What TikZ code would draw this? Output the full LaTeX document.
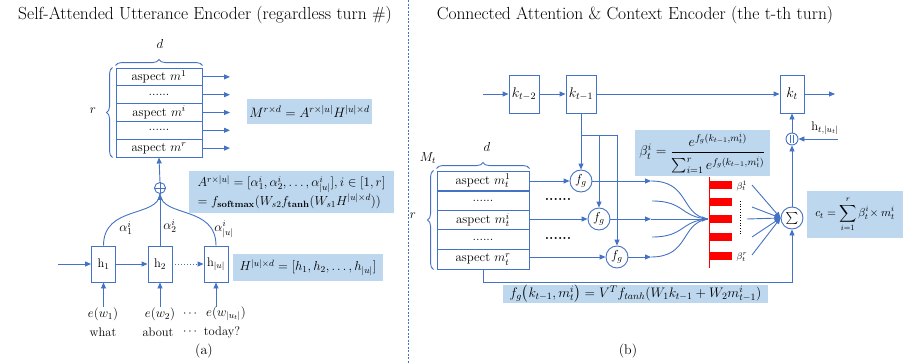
\RequirePackage{fix-cm}
\documentclass[tikz,border=0pt]{standalone}
\usepackage{amsmath}
\usetikzlibrary{arrows.meta,decorations.pathreplacing,calc}
\definecolor{blu}{RGB}{68,114,196}
\definecolor{lblu}{RGB}{189,215,238}
\definecolor{rd}{RGB}{255,0,0}
\tikzset{
  ln/.style={draw=blu,line width=0.9pt},
  ar/.style={ln,-{Triangle[length=6pt,width=5pt]}},
  rowbox/.style={draw=blu,line width=0.9pt,minimum width=86pt,inner sep=0pt,font=\fontsize{12.8}{14}\selectfont},
  rowboxr/.style={rowbox,minimum width=92pt},
  hbox/.style={draw=blu,line width=0.9pt,minimum width=24pt,minimum height=36pt,inner sep=0pt,font=\fontsize{12.5}{14}\selectfont},
  kbox/.style={draw=blu,line width=0.9pt,minimum width=30pt,minimum height=38pt,inner sep=0pt,font=\fontsize{14}{16}\selectfont},
  fgc/.style={circle,draw=blu,line width=0.9pt,minimum size=22pt,inner sep=0pt,font=\fontsize{13}{15}\selectfont},
  formula/.style={fill=lblu,inner sep=2pt,font=\fontsize{13}{15}\selectfont},
  lbl/.style={inner sep=0pt,font=\fontsize{12}{14}\selectfont},
  ttl/.style={inner sep=0pt,font=\fontsize{17.5}{20}\selectfont},
  brc/.style={ln,decorate,decoration={brace,amplitude=6pt}},
}
\begin{document}
\begin{tikzpicture}[x=1pt,y=-1pt]
\useasboundingbox (0,0) rectangle (914,364);

% ---------- titles and divider ----------
\node[ttl] (titleA) at (205,15) {Self-Attended Utterance Encoder (regardless turn \#)};
\node[ttl] (titleB) at (635,15) {Connected Attention \& Context Encoder (the t-th turn)};
\draw[draw=blu,line width=0.8pt,dash pattern=on 2pt off 1.5pt] (408,0) -- (408,364);

% ---------- (a) self-attended utterance encoder ----------
\foreach \n/\y/\t in {1/76.9/{aspect $m^1$},2/94.7/{......},3/112.5/{aspect $m^i$},4/130.3/{......},5/148.1/{aspect $m^r$}}{
  \node[rowbox,minimum height=17.8pt] (a\n) at (159,\y) {\t};
  \coordinate (ae\n) at (230,\y);
  \draw[ar] (a\n.east) -- (ae\n);
}
\draw[brc] ($(a1.north west)+(0,-2)$) -- ($(a1.north east)+(0,-2)$);
\node[lbl,font=\fontsize{13}{15}\selectfont] (dA) at (160,44) {$d$};
\draw[brc] ($(a5.south west)+(-3,0)$) -- ($(a1.north west)+(-3,0)$);
\node[lbl,font=\fontsize{13}{15}\selectfont] (rA) at (93,111) {$r$};

\node[formula,minimum width=119pt,minimum height=25pt,font=\fontsize{13.6}{15}\selectfont] (Mf) at (309.5,111.5) {$M^{r\times d} = A^{r\times|u|}H^{|u|\times d}$};

% combining node
\node[circle,draw=blu,line width=0.9pt,minimum size=11pt,inner sep=0pt] (plus) at (160,188) {};
\draw[ln] (plus.north) -- (plus.south) (plus.west) -- (plus.east);
\draw[ar] (plus.north) -- (a5.south);

% hidden states
\node[hbox] (h1) at (103.5,264) {h$_1$};
\node[hbox] (h2) at (160,264) {h$_2$};
\node[hbox] (h3) at (216,264) {h$_{|u|}$};
\coordinate (hin) at (58,264);
\draw[ar] (hin) -- (h1.west);
\draw[ar] (h1.east) -- (h2.west);
\draw[ln,dotted,-{Triangle[length=6pt,width=5pt]}] (h2.east) -- (h3.west);

\draw[ln] (h1.north) .. controls (103.5,205) and (158,218) .. (plus.south);
\draw[ln] (h3.north) .. controls (216,205) and (162,218) .. (plus.south);
\draw[ar] (h2.north) -- (plus.south);

\node[lbl,font=\fontsize{13}{15}\selectfont] (al1) at (126,228) {$\alpha_1^i$};
\node[lbl,font=\fontsize{13}{15}\selectfont] (al2) at (170,226) {$\alpha_2^i$};
\node[lbl,font=\fontsize{13}{15}\selectfont] (al3) at (224,229) {$\alpha_{|u|}^i$};

\node[formula,minimum width=205pt,minimum height=42pt,align=left] (Af) at (291.5,192)
  {$A^{r\times|u|} = [\alpha_1^i,\alpha_2^i,\ldots,\alpha_{|u|}^i], i\in[1,r]$\\
   $= f_{\mathbf{softmax}}(W_{s2}f_{\mathbf{tanh}}(W_{s1}H^{|u|\times d}))$};
\node[formula,minimum width=150pt,minimum height=27pt] (Hf) at (308,267.5) {$H^{|u|\times d} = [h_1,h_2,\ldots,h_{|u|}]$};

% word embeddings
\node[lbl,font=\fontsize{13}{15}\selectfont] (e1) at (103,314) {$e(w_1)$};
\node[lbl,font=\fontsize{13}{15}\selectfont] (e2) at (160,314) {$e(w_2)$};
\node[lbl] (ed) at (191,314) {$\cdots$};
\node[lbl,font=\fontsize{13}{15}\selectfont] (e3) at (226,314) {$e(w_{|u_t|})$};
\draw[ar] (e1.north -| h1) -- (h1.south);
\draw[ar] (e2.north -| h2) -- (h2.south);
\draw[ar] (e3.north -| h3) -- (h3.south);
\node[lbl,font=\fontsize{12.5}{14}\selectfont] (w1) at (103,332) {what};
\node[lbl,font=\fontsize{12.5}{14}\selectfont] (w2) at (158,332) {about};
\node[lbl] (wd) at (191,332) {$\cdots$};
\node[lbl,font=\fontsize{12.5}{14}\selectfont] (w3) at (222,332) {today?};
\node[lbl,font=\fontsize{14}{16}\selectfont] (capA) at (204,351) {(a)};

% ---------- (b) connected attention & context encoder ----------
\node[kbox] (k2) at (524,94) {$k_{t-2}$};
\node[kbox] (k1) at (581,94) {$k_{t-1}$};
\node[kbox,minimum width=24pt] (kt) at (792,94) {$k_t$};
\coordinate (kin) at (483,94);
\coordinate (kout) at (835,94);
\draw[ar] (kin) -- (k2.west);
\draw[ar] (k2.east) -- (k1.west);
\draw[ar] (k1.east) -- (kt.west);
\draw[ar] (kt.east) -- (kout);

\foreach \n/\y/\t in {1/180.8/{aspect $m_t^1$},2/200.4/{......},3/220/{aspect $m_t^i$},4/239.6/{......},5/259.2/{aspect $m_t^r$}}{
  \node[rowboxr,minimum height=19.6pt] (b\n) at (483,\y) {\t};
}
\draw[ln,line width=1.6pt] (b1.south west) -- (b1.south east);
\draw[brc] ($(b1.north west)+(0,-2)$) -- ($(b1.north east)+(0,-2)$);
\node[lbl,font=\fontsize{13}{15}\selectfont] (dB) at (487,147) {$d$};
\node[lbl,font=\fontsize{13}{15}\selectfont] (Mt) at (428,158) {$M_t$};
\draw[brc] ($(b5.south west)+(-3,0)$) -- ($(b1.north west)+(-3,0)$);
\node[lbl,font=\fontsize{13}{15}\selectfont] (rB) at (413,216) {$r$};

\node[fgc] (f1) at (581,181) {$f_g$};
\node[fgc] (f2) at (599,219) {$f_g$};
\node[fgc] (f3) at (617,257) {$f_g$};
\draw[ar] (b1.east |- f1) -- (f1.west);
\draw[ar] (b3.east |- f2) -- (f2.west);
\draw[ar] (b5.east |- f3) -- (f3.west);
\node[lbl,font=\fontsize{14}{16}\bfseries] (dots1) at (558,199) {......};
\node[lbl,font=\fontsize{14}{16}\bfseries] (dots2) at (558,238) {......};

\coordinate (br) at (581,135);
\draw[ln] (k1.south) -- (br);
\draw[ar] (br) -- (f1.north);
\draw[ar] (br) -| (f2.north);
\draw[ar] (br) -| (f3.north);

% scores gathered onto the attention bar
\coordinate (s1) at (651,181);
\coordinate (s2) at (652,201);
\coordinate (s3) at (651,219);
\coordinate (s4) at (652,237);
\coordinate (s5) at (651,257);
\coordinate (conv) at (708,219);
\draw[ar] (f1.east) -- (s1);
\draw[ar] (f2.east) -- (s3);
\draw[ar] (f3.east) -- (s5);
\draw[ln] (s1) .. controls (690,181) and (680,215) .. (conv);
\draw[ln] (s2) .. controls (685,201) and (680,217) .. (conv);
\draw[ar] (s3) -- (conv);
\draw[ln] (s4) .. controls (685,237) and (680,221) .. (conv);
\draw[ln] (s5) .. controls (690,257) and (680,223) .. (conv);

% attention weights
\draw[draw=rd,line width=0.9pt] (709,177) -- (709,268);
\foreach \y in {185,202,219,237,256}{
  \fill[rd] (709,\y-4) rectangle (732,\y+4);
}
\node[lbl,font=\fontsize{9.5}{10}\selectfont] (bt1) at (742,186) {$\beta_t^1$};
\node[lbl,font=\fontsize{9.5}{10}\selectfont] (btr) at (742,257) {$\beta_t^r$};
\draw[black,line width=0.7pt,dotted] (740,201) -- (740,236);

\node[fgc] (sig) at (792,218) {$\sum$};
\coordinate (g1) at (752,185);
\coordinate (g2) at (752,207);
\coordinate (g3) at (747,219);
\coordinate (g4) at (752,237);
\coordinate (g5) at (752,255);
\foreach \g in {g1,g2,g3,g4,g5}{
  \draw[ar] (\g) -- (sig.west);
}

\node[formula,minimum width=135pt,minimum height=46pt,inner sep=0pt,font=\fontsize{14}{16}\selectfont] (betaf) at (702.5,153)
  {$\beta_t^i = \genfrac{}{}{1.4pt}{0}{e^{f_g(k_{t-1},m_t^i)}}{\sum\nolimits_{i=1}^r e^{f_g(k_{t-1},m_t^i)}}$};
\node[formula,minimum width=96pt,minimum height=47pt,font=\fontsize{11.5}{13}\selectfont] (cf) at (855,214.5)
  {$c_t = \displaystyle\sum_{i=1}^r \beta_t^i\!\times m_t^i$};

% concatenation with the last hidden state
\node[circle,draw=blu,line width=0.9pt,minimum size=12pt,inner sep=0pt] (cat) at (792,139) {};
\draw[ln,line width=0.6pt] ($(cat.center)+(-1.3,-4)$) -- ($(cat.center)+(-1.3,4)$)
                           ($(cat.center)+(1.3,-4)$) -- ($(cat.center)+(1.3,4)$);
\draw[ar] (sig.north) -- (cat.south);
\draw[ar] (cat.north) -- (kt.south);
\coordinate (hin2) at (838,139);
\draw[ar] (hin2) -- (cat.east);
\node[lbl,font=\fontsize{12.5}{14}\selectfont] (hlab) at (825,128) {h$_{t,|u_t|}$};

% aspects passed straight to the weighted sum
\coordinate (low) at (483,282);
\draw[ar] (b5.south) -- (low) -| (sig.south);

\node[formula,minimum width=265pt,minimum height=18pt,inner sep=0pt,font=\fontsize{13.8}{15}\selectfont] (fgf) at (635.5,294)
  {$f_g\big(k_{t-1},m_t^i\big) = V^T f_{tanh}(W_1k_{t-1}+W_2m_{t-1}^i)$};
\node[lbl,font=\fontsize{14}{16}\selectfont] (capB) at (628,351) {(b)};
\end{tikzpicture}
\end{document}
